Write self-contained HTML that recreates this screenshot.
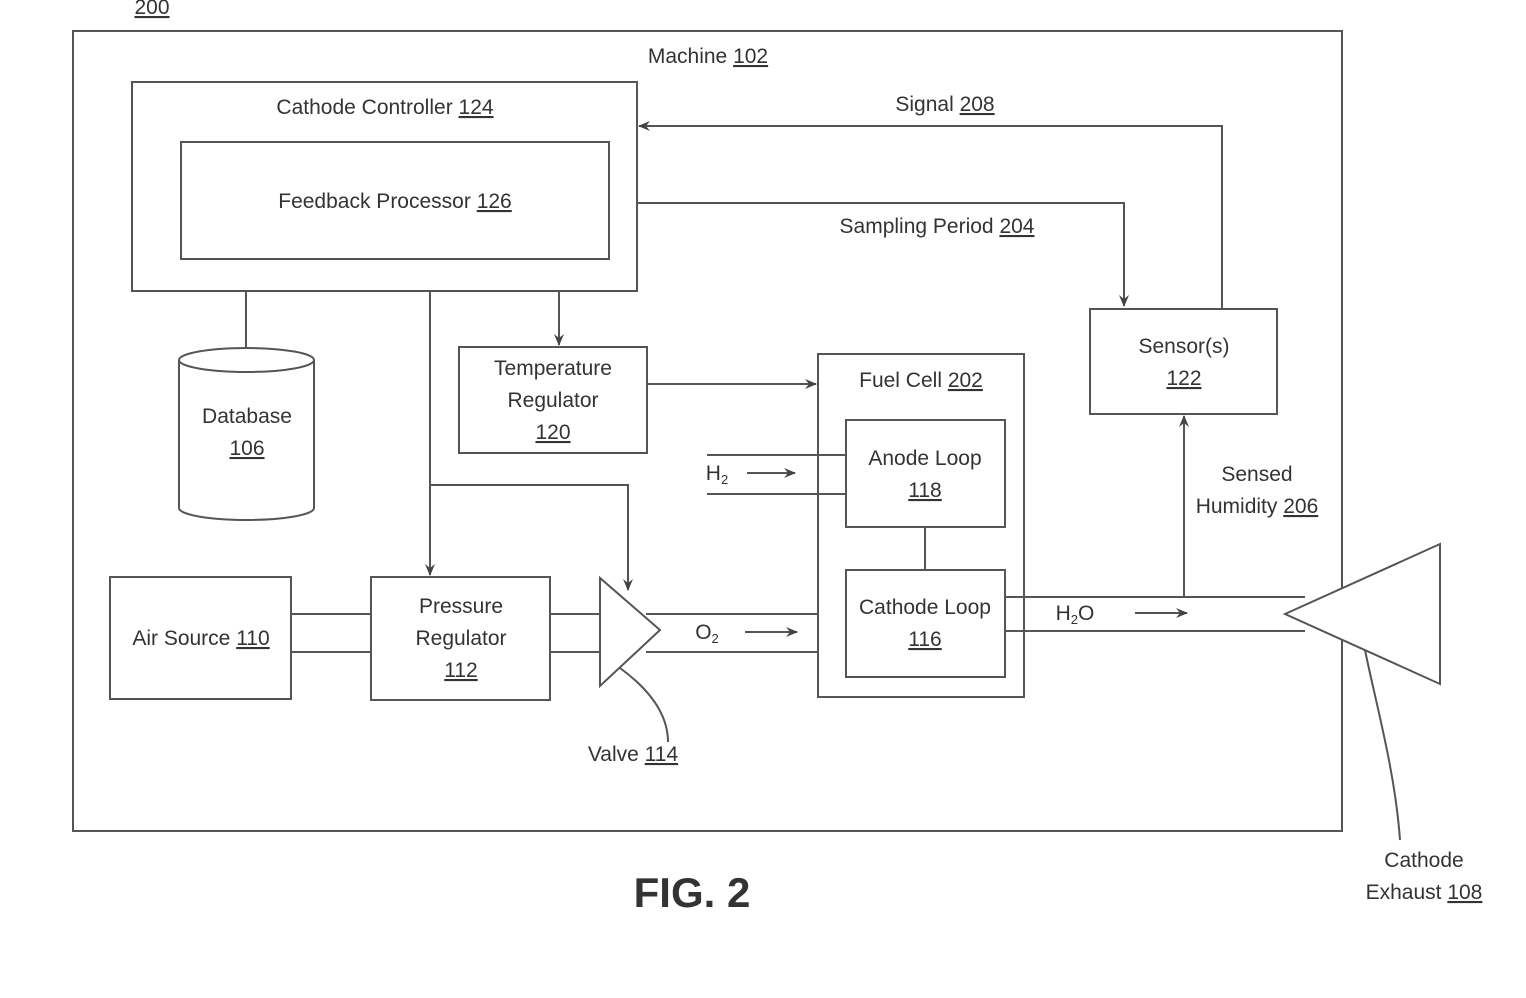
<!DOCTYPE html>
<html><head><meta charset="utf-8"><style>
html,body{margin:0;padding:0;background:#fff;}
svg{display:block;}
text{font-family:"Liberation Sans",sans-serif;font-size:21px;fill:#333;}
</style></head><body>
<svg width="1526" height="998" viewBox="0 0 1526 998" xmlns="http://www.w3.org/2000/svg">
<defs>
<marker id="a" markerWidth="12" markerHeight="10" refX="11" refY="5" orient="auto" markerUnits="userSpaceOnUse">
<path d="M0,0 L12,5 L0,10 L4,5 z" fill="#444"/></marker>
</defs>
<g fill="none" stroke="#555" stroke-width="2">
<rect x="73" y="31" width="1269" height="800"/>
<rect x="132" y="82" width="505" height="209"/>
<rect x="181" y="142" width="428" height="117"/>
<rect x="459" y="347" width="188" height="106"/>
<rect x="110" y="577" width="181" height="122"/>
<rect x="371" y="577" width="179" height="123"/>
<rect x="818" y="354" width="206" height="343"/>
<rect x="846" y="420" width="159" height="107"/>
<rect x="846" y="570" width="159" height="107"/>
<rect x="1090" y="309" width="187" height="105"/>
<path d="M179,360 L179,508 A67.5,12 0 0 0 314,508 L314,360"/>
<ellipse cx="246.5" cy="360" rx="67.5" ry="12"/>
<line x1="246" y1="291" x2="246" y2="348"/>
<line x1="559" y1="291" x2="559" y2="345" marker-end="url(#a)"/>
<line x1="430" y1="291" x2="430" y2="575" marker-end="url(#a)"/>
<polyline points="430,485 628,485 628,590" marker-end="url(#a)"/>
<line x1="291" y1="614" x2="371" y2="614"/><line x1="291" y1="652" x2="371" y2="652"/>
<line x1="550" y1="614" x2="600" y2="614"/><line x1="550" y1="652" x2="600" y2="652"/>
<polygon points="600,578 600,686 660,630"/>
<line x1="646" y1="614" x2="818" y2="614"/><line x1="646" y1="652" x2="818" y2="652"/>
<line x1="745" y1="632" x2="797" y2="632" marker-end="url(#a)"/>
<path d="M620,668 C650,690 668,715 668,742"/>
<line x1="647" y1="384" x2="816" y2="384" marker-end="url(#a)"/>
<line x1="707" y1="455" x2="846" y2="455"/><line x1="707" y1="494" x2="846" y2="494"/>
<line x1="747" y1="473" x2="795" y2="473" marker-end="url(#a)"/>
<line x1="925" y1="527" x2="925" y2="570"/>
<line x1="1005" y1="597" x2="1305" y2="597"/><line x1="1005" y1="631" x2="1305" y2="631"/>
<line x1="1135" y1="613" x2="1187" y2="613" marker-end="url(#a)"/>
<polygon points="1285,614 1440,544 1440,684" fill="#fff"/>
<line x1="1184" y1="597" x2="1184" y2="416" marker-end="url(#a)"/>
<polyline points="1222,309 1222,126 639,126" marker-end="url(#a)"/>
<polyline points="637,203 1124,203 1124,306" marker-end="url(#a)"/>
<path d="M1365,650 C1375,700 1395,770 1400,840"/>
</g>
<g text-anchor="middle">
<text x="152" y="14" text-decoration="underline">200</text>
<text x="708" y="63">Machine <tspan text-decoration="underline">102</tspan></text>
<text x="385" y="114">Cathode Controller <tspan text-decoration="underline">124</tspan></text>
<text x="395" y="208">Feedback Processor <tspan text-decoration="underline">126</tspan></text>
<text x="247" y="423">Database</text><text x="247" y="455" text-decoration="underline">106</text>
<text x="553" y="375">Temperature</text><text x="553" y="407">Regulator</text><text x="553" y="439" text-decoration="underline">120</text>
<text x="201" y="645">Air Source <tspan text-decoration="underline">110</tspan></text>
<text x="461" y="613">Pressure</text><text x="461" y="645">Regulator</text><text x="461" y="677" text-decoration="underline">112</text>
<text x="707" y="639">O<tspan font-size="13" dy="4">2</tspan></text>
<text x="633" y="761">Valve <tspan text-decoration="underline">114</tspan></text>
<text x="921" y="387">Fuel Cell <tspan text-decoration="underline">202</tspan></text>
<text x="925" y="465">Anode Loop</text><text x="925" y="497" text-decoration="underline">118</text>
<text x="717" y="480">H<tspan font-size="13" dy="4">2</tspan></text>
<text x="925" y="614">Cathode Loop</text><text x="925" y="646" text-decoration="underline">116</text>
<text x="1075" y="620">H<tspan font-size="13" dy="4">2</tspan><tspan dy="-4">O</tspan></text>
<text x="1184" y="353">Sensor(s)</text><text x="1184" y="385" text-decoration="underline">122</text>
<text x="1257" y="481">Sensed</text><text x="1257" y="513">Humidity <tspan text-decoration="underline">206</tspan></text>
<text x="945" y="111">Signal <tspan text-decoration="underline">208</tspan></text>
<text x="937" y="233">Sampling Period <tspan text-decoration="underline">204</tspan></text>
<text x="1424" y="867">Cathode</text><text x="1424" y="899">Exhaust <tspan text-decoration="underline">108</tspan></text>
<text x="692" y="907" style="font-size:42px;font-weight:bold">FIG. 2</text>
</g>
</svg>
</body></html>
